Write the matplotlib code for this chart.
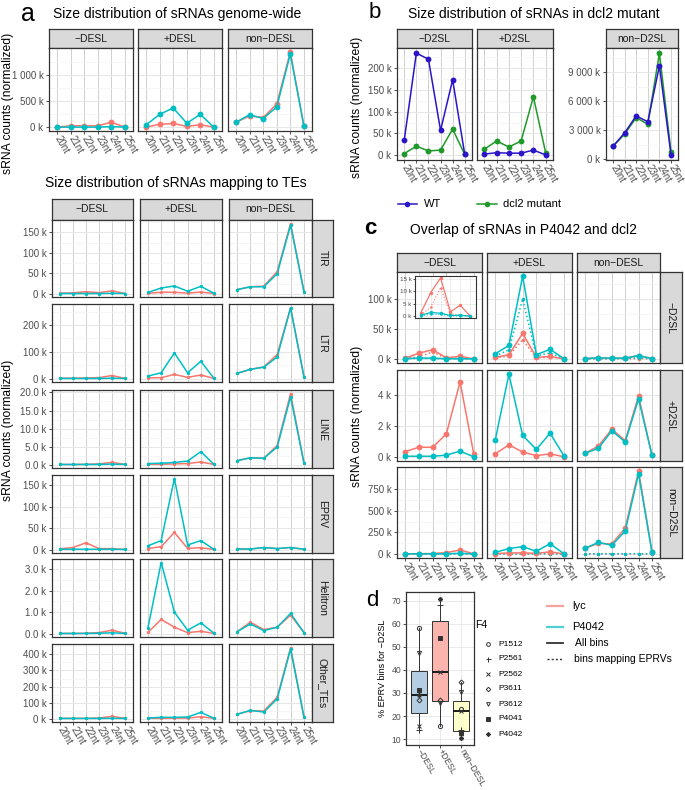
import numpy as np
import matplotlib.pyplot as plt

plt.rcParams['font.family'] = ['Liberation Sans', 'DejaVu Sans']

sizes = ['20nt', '21nt', '22nt', '23nt', '24nt', '25nt']
desl = ['\u2212DESL', '+DESL', 'non\u2212DESL']
d2sl = ['\u2212D2SL', '+D2SL', 'non\u2212D2SL']
te_names = ['TIR', 'LTR', 'LINE', 'EPRV', 'Helitron', 'Other_TEs']

# sRNA counts in thousands, one list per DESL column
gw_lyc = [[5, 30, 30, 30, 100, 5], [5, 60, 75, 20, 50, 5], [100, 220, 190, 450, 1455, 30]]
gw_p4042 = [[5, 5, 5, 5, 15, 5], [50, 250, 375, 80, 250, 3], [100, 245, 170, 395, 1410, 30]]

tir_lyc = [[1, 2, 5, 2.5, 7, 0.5], [1, 3.5, 3.5, 1.5, 4, 0.5], [10, 17, 18.5, 54, 172, 5]]
tir_p4042 = [[0.5, 0.5, 0.5, 0.5, 1, 0.5], [3, 14, 19, 6, 18, 1], [10, 17, 17, 49, 168, 5]]
ltr_lyc = [[2, 2, 3, 4, 12, 1], [3, 4, 16, 5, 14, 1], [20, 35, 44, 90, 265, 7]]
ltr_p4042 = [[1, 1, 1, 1, 2, 1], [10, 22, 96, 22, 65, 1], [20, 35, 43, 81, 263, 7]]
line_lyc = [[0.05, 0.05, 0.1, 0.2, 0.64, 0.05], [0.1, 0.1, 0.2, 0.3, 0.75, 0.05], [1.1, 1.9, 1.8, 5.3, 19.7, 0.45]]
line_p4042 = [[0.05, 0.05, 0.05, 0.05, 0.15, 0.05], [0.3, 0.4, 0.6, 1.0, 3.6, 0.05], [1.1, 1.9, 1.75, 4.9, 18.8, 0.45]]
eprv_lyc = [[2, 5, 16, 2.5, 2.5, 0.5], [2.5, 7, 40, 3, 4.5, 0.5], [1.5, 1.5, 5, 2.5, 5, 1]]
eprv_p4042 = [[1, 1, 1, 1, 1, 0.5], [9, 21, 165, 11, 21, 0.5], [1.5, 1.5, 5, 2.5, 5, 1]]
hel_lyc = [[0.01, 0.01, 0.02, 0.05, 0.16, 0.02], [0.06, 0.66, 0.3, 0.05, 0.11, 0.01], [0.09, 0.53, 0.19, 0.3, 0.86, 0.05]]
hel_p4042 = [[0.01, 0.01, 0.01, 0.02, 0.04, 0.01], [0.27, 3.3, 1.0, 0.16, 0.5, 0.02], [0.09, 0.45, 0.14, 0.3, 0.94, 0.05]]
oth_lyc = [[2, 2, 2, 4, 14, 2], [2, 2, 3, 3, 12, 1], [27, 50, 47, 133, 443, 10]]
oth_p4042 = [[1, 1, 1, 1, 2, 1], [4, 8, 8, 10, 39, 2], [27, 51, 41, 123, 433, 10]]
te_ticks = [[0, 50, 100, 150], [0, 100, 200], [0, 5, 10, 15, 20], [0, 50, 100, 150], [0, 1, 2, 3], [0, 100, 200, 300, 400]]
te_dec = [0, 0, 1, 0, 1, 0]

b_wt = [[35, 234, 220, 57, 173, 2], [3, 6, 5, 5, 12, 1], [1320, 2700, 4460, 3860, 9640, 430]]
b_dcl2 = [[4, 21, 10, 12, 60, 2], [14, 33, 19, 33, 134, 6], [1320, 2570, 4290, 3600, 10960, 750]]

# panel c, rows = D2SL class, columns = DESL class
c_lyc = [[[1.4, 9.5, 15.4, 1.8, 4.4, 0.1], [2.5, 7, 42.5, 2.5, 4, 0.3], [0.5, 1.7, 1.2, 1.2, 5.6, 0.5]],
         [[0.36, 0.64, 0.64, 1.5, 4.85, 0.2], [0.21, 0.8, 0.33, 0.1, 0.21, 0.03], [0.25, 0.72, 1.8, 1.07, 3.95, 0.12]],
         [[2, 3, 5, 15, 46, 2], [4, 12, 12, 8, 23, 2], [65, 123, 115, 300, 960, 23]]]
c_p4042 = [[[0.4, 1.5, 1.2, 0.3, 0.4, 0.05], [8.5, 22.5, 138, 7, 16, 0.5], [0.5, 1.7, 1.2, 1.2, 5.6, 0.5]],
           [[0.06, 0.06, 0.06, 0.13, 0.39, 0.02], [1.1, 5.35, 1.4, 0.5, 1.55, 0.1], [0.25, 0.57, 1.7, 0.98, 3.75, 0.12]],
           [[1, 1, 1, 2, 8, 1], [19, 62, 85, 31, 119, 4], [65, 135, 100, 265, 930, 23]]]
c_lyc_eprv = [[[0.5, 3.6, 11.5, 0.8, 0.5, 0.05], [1.5, 5, 32, 1.5, 3, 0.2], [0.1, 0.2, 0.2, 0.2, 0.5, 0.1]],
              None,
              [[0.1, 0.1, 0.1, 0.1, 0.2, 0.1], [1, 2, 2, 1, 3, 0.5], [0.5, 1, 1, 1, 2, 0.5]]]
c_p4042_eprv = [[[0.2, 0.8, 0.7, 0.15, 0.2, 0.02], [5, 15, 100, 5, 10, 0.3], [0.2, 0.5, 0.4, 0.4, 2, 0.2]],
                None,
                [[0.1, 0.1, 0.1, 0.1, 0.2, 0.1], [0.5, 1, 1, 0.5, 2, 0.2], [1, 2, 2, 2, 3, 1]]]
c_ticks = [[0, 50, 100], [0, 2, 4], [0, 250, 500, 750]]

# panel d, % EPRV bins for -D2SL
f4 = ['P1512', 'P2561', 'P2562', 'P3611', 'P3612', 'P4041', 'P4042']
pct_minus = [58.1, 14.0, 15.7, 27.1, 47.4, 31.4, 29.3]
pct_plus = [15.7, 68.1, 39.0, 27.1, 25.7, 54.0, 70.7]
pct_non = [22.9, 14.0, 22.1, 34.9, 30.3, 12.8, 10.5]

RED = '#F8766D'
TEAL = '#00BFC4'
BLUE = '#2A16C8'
GREEN = '#1F9A2A'
DARK = '#333333'

W, H = 685, 790
fig = plt.figure(figsize=(W / 100, H / 100), dpi=100)


def place(x0, y0, x1, y1):
    return fig.add_axes([x0 / W, 1 - y1 / H, (x1 - x0) / W, (y1 - y0) / H])


def strip(x0, y0, x1, y1, label, rot=0):
    s = place(x0, y0, x1, y1)
    s.set_facecolor('#D9D9D9')
    s.set_xticks([])
    s.set_yticks([])
    for sp in s.spines.values():
        sp.set_color(DARK)
        sp.set_linewidth(0.9)
    s.text(0.5, 0.5, label, rotation=rot, ha='center', va='center',
           transform=s.transAxes, fontsize=7.5, color='#1A1A1A')


def limits(*groups):
    vals = np.concatenate([np.ravel(np.array(g, dtype=float)) for g in groups])
    lo, hi = vals.min(), vals.max()
    pad = 0.05 * (hi - lo)
    return lo - pad, hi + pad


def kfmt(v, dec=0):
    return f'{v:,.{dec}f}'.replace(',', ' ') + ' k'


def facet(x0, y0, x1, y1, ylim, ticks, left, bottom, dec=0, fs=7):
    ax = place(x0, y0, x1, y1)
    ax.set_xlim(-0.6, 5.6)
    ax.set_ylim(*ylim)
    ax.set_xticks(range(6))
    ax.set_yticks(ticks)
    step = ticks[1] - ticks[0]
    ax.set_yticks(np.arange(ticks[0] - step / 2, ylim[1], step), minor=True)
    ax.set_ylim(*ylim)
    ax.grid(True, which='major', axis='x', color='#D0D0D0', lw=0.7)
    ax.grid(True, which='major', axis='y', color='#E6E6E6', lw=0.7)
    ax.grid(True, which='minor', axis='y', color='#F3F3F3', lw=0.5)
    ax.set_axisbelow(True)
    for sp in ax.spines.values():
        sp.set_color(DARK)
        sp.set_linewidth(0.9)
    ax.tick_params(which='minor', length=0)
    ax.tick_params(which='major', length=2.5, width=0.6, color=DARK,
                   labelsize=fs, labelcolor='#4D4D4D', pad=1.5)
    if left:
        ax.set_yticklabels([kfmt(t, dec) for t in ticks])
    else:
        ax.tick_params(axis='y', length=0, labelleft=False)
    if bottom:
        ax.set_xticklabels(sizes, rotation=-60, ha='left', va='center',
                           rotation_mode='anchor')
    else:
        ax.tick_params(axis='x', length=0, labelbottom=False)
    return ax


def series(ax, y, color, ms, ls='-', lw=1.1):
    ax.plot(range(6), y, color=color, lw=lw, ls=ls, marker='o', ms=ms, mew=0)


# ---- panel a, genome-wide
cols_a = [(49, 133), (138, 222), (228, 312)]
ylim = limits(gw_lyc, gw_p4042)
for i, (x0, x1) in enumerate(cols_a):
    strip(x0, 29, x1, 48, desl[i])
    ax = facet(x0, 48, x1, 131, ylim, [0, 500, 1000], i == 0, True)
    series(ax, gw_lyc[i], RED, 4.2)
    series(ax, gw_p4042[i], TEAL, 4.2)

# ---- panel a, TEs
te_cols = [(52, 133), (140, 222), (229, 312)]
te_rows = [(220, 297), (304, 382), (390, 468), (475, 553), (559, 637), (644, 722)]
te_lyc = [tir_lyc, ltr_lyc, line_lyc, eprv_lyc, hel_lyc, oth_lyc]
te_p4042 = [tir_p4042, ltr_p4042, line_p4042, eprv_p4042, hel_p4042, oth_p4042]
for r, (y0, y1) in enumerate(te_rows):
    ylim = limits(te_lyc[r], te_p4042[r])
    for i, (x0, x1) in enumerate(te_cols):
        if r == 0:
            strip(x0, 199, x1, 220, desl[i])
        ax = facet(x0, y0, x1, y1, ylim, te_ticks[r], i == 0, r == 5, te_dec[r])
        series(ax, te_lyc[r][i], RED, 2.4)
        series(ax, te_p4042[r][i], TEAL, 2.4)
    strip(312, y0, 333, y1, te_names[r], rot=-90)

# ---- panel b
b_cols = [(397, 472), (477, 553), (606, 678)]
ylim_b = limits(b_wt[:2], b_dcl2[:2])
ylim_bn = limits(b_wt[2], b_dcl2[2])
for i, (x0, x1) in enumerate(b_cols):
    strip(x0, 29, x1, 48, d2sl[i])
    if i < 2:
        ax = facet(x0, 48, x1, 160, ylim_b, [0, 50, 100, 150, 200], i == 0, True)
    else:
        ax = facet(x0, 48, x1, 160, ylim_bn, [0, 3000, 6000, 9000], True, True)
    series(ax, b_dcl2[i], GREEN, 4.2)
    series(ax, b_wt[i], BLUE, 4.2)

# ---- panel c
c_cols = [(397, 482), (487, 572), (577, 660)]
c_rows = [(272, 363), (370, 461), (467, 558)]
for r, (y0, y1) in enumerate(c_rows):
    ylim = limits(c_lyc[r], c_p4042[r])
    for i, (x0, x1) in enumerate(c_cols):
        if r == 0:
            strip(x0, 253, x1, 272, desl[i])
        ax = facet(x0, y0, x1, y1, ylim, c_ticks[r], i == 0, r == 2)
        if c_lyc_eprv[r] is not None:
            series(ax, c_lyc_eprv[r][i], RED, 2.5, ls=':')
            series(ax, c_p4042_eprv[r][i], TEAL, 2.5, ls=':')
        series(ax, c_lyc[r][i], RED, 4.2)
        series(ax, c_p4042[r][i], TEAL, 4.2)
    strip(660, y0, 682, y1, d2sl[r], rot=-90)

# inset with the -D2SL / -DESL zoom
ins = place(415, 276, 476, 318)
ins.set_zorder(5)
ilim = limits(c_lyc[0][0], c_p4042[0][0])
ins.set_xlim(-0.6, 5.6)
ins.set_ylim(*ilim)
ins.set_xticks(range(6))
ins.set_yticks([0, 5, 10, 15])
ins.set_yticklabels([kfmt(t) for t in [0, 5, 10, 15]])
ins.grid(True, color='#E6E6E6', lw=0.5)
ins.set_axisbelow(True)
for sp in ins.spines.values():
    sp.set_color(DARK)
    sp.set_linewidth(0.8)
ins.tick_params(axis='x', length=0, labelbottom=False)
ins.tick_params(axis='y', length=1.5, width=0.5, labelsize=4.5, labelcolor='#4D4D4D', pad=1)
ins.plot(range(6), c_lyc_eprv[0][0], color=RED, lw=0.8, ls=':', marker='o', ms=1.8, mew=0)
ins.plot(range(6), c_p4042_eprv[0][0], color=TEAL, lw=0.8, ls=':', marker='o', ms=1.8, mew=0)
ins.plot(range(6), c_lyc[0][0], color=RED, lw=0.9, marker='o', ms=2.5, mew=0)
ins.plot(range(6), c_p4042[0][0], color=TEAL, lw=0.9, marker='o', ms=2.5, mew=0)

# ---- panel d
axd = place(406, 592, 474, 745)
bp = axd.boxplot([pct_minus, pct_plus, pct_non], positions=[1, 2, 3], widths=0.75,
                 patch_artist=True, showcaps=False, showfliers=False,
                 medianprops=dict(color='#1A1A1A', lw=1.4),
                 whiskerprops=dict(color=DARK, lw=0.7),
                 boxprops=dict(edgecolor=DARK, lw=0.7))
for patch, c in zip(bp['boxes'], ['#B3CDE3', '#FBB4AE', '#FFFFCC']):
    patch.set_facecolor(c)
f4_markers = [('o', 'none'), ('+', DARK), ('x', DARK), ('D', 'none'), ('v', 'none'), ('s', DARK), ((8, 2, 0), DARK)]
f4_ms = [3, 4, 3, 2.5, 3, 3, 3.5]
for j in range(len(f4)):
    m, fc = f4_markers[j]
    axd.plot([1, 2, 3], [pct_minus[j], pct_plus[j], pct_non[j]], ls='none', marker=m,
             ms=f4_ms[j], mfc=fc, mec=DARK, mew=0.7, zorder=4)
axd.set_xlim(0.4, 3.6)
axd.margins(y=0.05)
axd.set_yticks([10, 20, 30, 40, 50, 60, 70])
axd.set_xticks([1, 2, 3])
axd.set_xticklabels(desl, rotation=-60, ha='left', va='center', rotation_mode='anchor')
axd.grid(True, color='#E6E6E6', lw=0.6)
axd.set_axisbelow(True)
for sp in axd.spines.values():
    sp.set_color(DARK)
    sp.set_linewidth(0.9)
axd.tick_params(length=2, width=0.6, color=DARK, labelsize=6.2, labelcolor='#4D4D4D', pad=1.5)

# ---- overlay for titles, labels and legends (pixel coordinates)
over = fig.add_axes([0, 0, 1, 1], zorder=10)
over.set_xlim(0, W)
over.set_ylim(H, 0)
over.axis('off')
over.patch.set_alpha(0)

over.text(21, 14, 'a', fontsize=18, va='center')
over.text(53, 14, 'Size distribution of sRNAs genome-wide', fontsize=10, va='center')
over.text(45, 183, 'Size distribution of sRNAs mapping to TEs', fontsize=10, va='center')
over.text(369, 12, 'b', fontsize=16, va='center')
over.text(408, 14, 'Size distribution of sRNAs in dcl2 mutant', fontsize=10, va='center')
over.text(364, 229, 'c', fontsize=16, va='center', fontweight='bold')
over.text(410, 230, 'Overlap of sRNAs in P4042 and dcl2', fontsize=10, va='center')
over.text(366, 601, 'd', fontsize=16, va='center')

ylab = 'sRNA counts (normalized)'
over.text(8, 103, ylab, rotation=90, fontsize=8.7, ha='center', va='center')
over.text(8, 430, ylab, rotation=90, fontsize=8.7, ha='center', va='center')
over.text(357, 107, ylab, rotation=90, fontsize=8.7, ha='center', va='center')
over.text(357, 416, ylab, rotation=90, fontsize=8.7, ha='center', va='center')
over.text(383, 668, '% EPRV bins for \u2212D2SL', rotation=90, fontsize=6.5, ha='center', va='center')

# legend b
over.plot([398, 417], [204, 204], color=BLUE, lw=1.1)
over.plot([407.5], [204], color=BLUE, marker='o', ms=4, mew=0)
over.text(424, 204, 'WT', fontsize=8, va='center')
over.plot([477, 497], [204, 204], color=GREEN, lw=1.1)
over.plot([487], [204], color=GREEN, marker='o', ms=4, mew=0)
over.text(503, 204, 'dcl2 mutant', fontsize=8, va='center')

# legend F4
over.text(475, 625, 'F4', fontsize=7.5, va='center')
for j in range(len(f4)):
    m, fc = f4_markers[j]
    y = 644 + 15 * j
    over.plot([488], [y], ls='none', marker=m, ms=f4_ms[j] * 0.9, mfc=fc, mec=DARK, mew=0.7)
    over.text(498, y, f4[j], fontsize=6, va='center')

# legend colour / line type
over.plot([547, 563], [606, 606], color='#F7A39D', lw=1.6)
over.text(572, 606, 'lyc', fontsize=8, va='center')
over.plot([547, 563], [627, 627], color='#4FD0D3', lw=1.6)
over.text(572, 627, 'P4042', fontsize=8, va='center')
over.plot([547, 563], [643, 643], color=DARK, lw=1.3)
over.text(575, 643, 'All bins', fontsize=7.5, va='center')
over.plot([547, 563], [659, 659], color=DARK, lw=1.0, ls=(0, (1.5, 1.5)))
over.text(574, 659, 'bins mapping EPRVs', fontsize=7.5, va='center')

fig.savefig('out.png', dpi=100)
